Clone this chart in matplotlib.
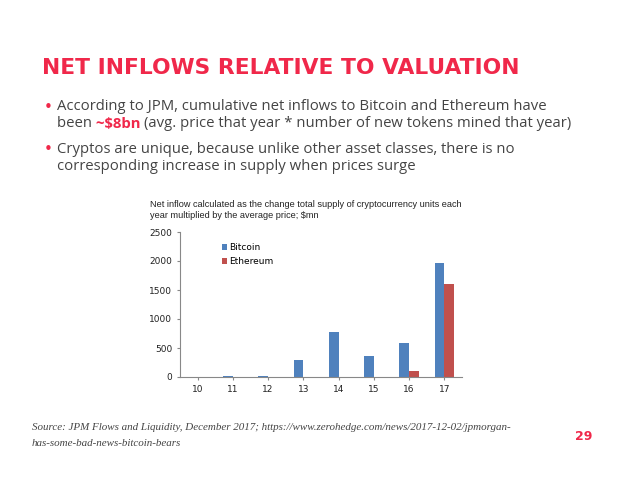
import matplotlib
matplotlib.use("Agg")
import matplotlib.pyplot as plt
import numpy as np

years = ["10", "11", "12", "13", "14", "15", "16", "17"]
bitcoin = [2, 10, 15, 300, 775, 365, 580, 1970]
ethereum = [0, 0, 0, 0, 0, 0, 110, 1600]
yticks = [0, 500, 1000, 1500, 2000, 2500]

RED = "#f0284a"
BLUE = "#4f81bd"
ERED = "#c0504d"

fig = plt.figure(figsize=(6.38, 4.79), dpi=100)
W, H = 638, 479

def px(x, y):
    return x / W, 1 - y / H

fig.text(*px(42, 68), "NET INFLOWS RELATIVE TO VALUATION", color=RED,
         fontsize=15.7, fontweight="bold", family="DejaVu Sans", va="center")

FS = 10.7
body = dict(fontsize=FS, family="Open Sans", color="#444444", va="center")
fig.text(*px(44, 107), "•", color=RED, fontsize=FS, va="center")
fig.text(*px(57, 107), "According to JPM, cumulative net inflows to Bitcoin and Ethereum have", **body)
t1 = fig.text(*px(57, 124), "been ", **body)
fig.canvas.draw()
r = fig.canvas.get_renderer()
x1 = 57 + t1.get_window_extent(r).width
t2 = fig.text(*px(x1, 124), "~$8bn ", color=RED, fontweight="bold", fontsize=FS,
              family="Open Sans", va="center")
x2 = x1 + t2.get_window_extent(r).width
fig.text(*px(x2, 124), "(avg. price that year * number of new tokens mined that year)", **body)
fig.text(*px(44, 150), "•", color=RED, fontsize=FS, va="center")
fig.text(*px(57, 150), "Cryptos are unique, because unlike other asset classes, there is no", **body)
fig.text(*px(57, 167), "corresponding increase in supply when prices surge", **body)

fig.text(*px(150, 210), "Net inflow calculated as the change total supply of cryptocurrency units each\n"
         "year multiplied by the average price; $mn", fontsize=6.6, family="Liberation Sans",
         color="#222222", va="center", linespacing=1.2)

ax = fig.add_axes([180 / W, 1 - 377 / H, 282 / W, 145 / H])
x = np.arange(len(years))
w = 0.28
ax.bar(x - w / 2, bitcoin, w, color=BLUE, label="Bitcoin")
ax.bar(x + w / 2, ethereum, w, color=ERED, label="Ethereum")
ax.set_xticks(x)
ax.set_xticklabels(years)
ax.set_yticks(yticks)
ax.set_ylim(0, 2500)
ax.set_xlim(-0.5, len(years) - 0.5)
for s in ["top", "right"]:
    ax.spines[s].set_visible(False)
for s in ["left", "bottom"]:
    ax.spines[s].set_color("#888888")
ax.tick_params(labelsize=6.5, colors="#222222", length=2, color="#888888")
ax.legend(loc="upper left", bbox_to_anchor=(0.12, 0.98), frameon=False,
          fontsize=6.5, handlelength=0.6, handleheight=0.6, handletextpad=0.2,
          labelspacing=0.6)

src = dict(fontsize=7.9, family="Liberation Serif", style="italic", color="#444444", va="center")
fig.text(*px(32, 428), "Source: JPM Flows and Liquidity, December 2017; https://www.zerohedge.com/news/2017-12-02/jpmorgan-", **src)
fig.text(*px(32, 444), "has-some-bad-news-bitcoin-bears", **src)
fig.text(*px(592, 437), "29", color=RED, fontsize=9, fontweight="bold",
         family="DejaVu Sans", ha="right", va="center")

fig.savefig("out.png", dpi=100)
